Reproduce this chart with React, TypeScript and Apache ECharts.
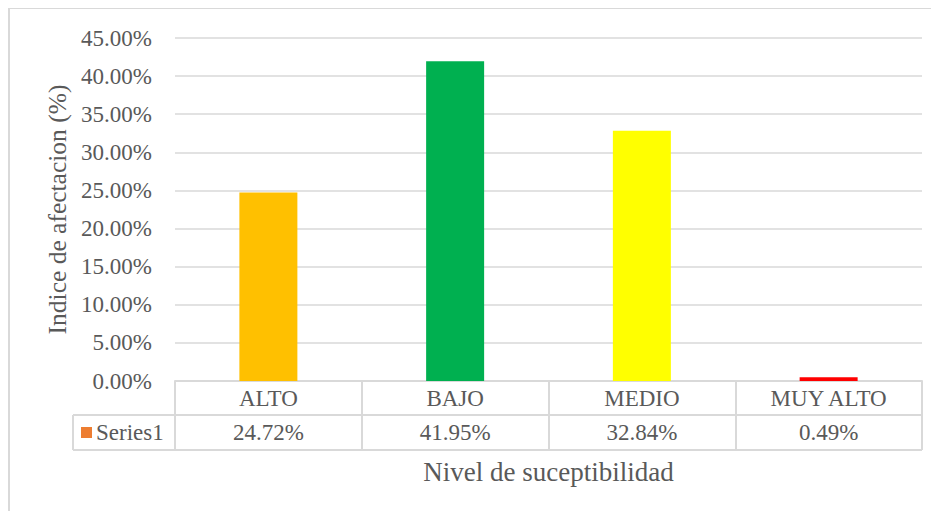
import React, { useEffect, useRef } from "react";
import * as echarts from "echarts";

const categories = ["ALTO", "BAJO", "MEDIO", "MUY ALTO"];
const values = [0.2472, 0.4195, 0.3284, 0.0049];
const barColors = ["#FFC000", "#00B050", "#FFFF00", "#FF0000"];
const seriesName = "Series1";
const yAxisTitle = "Indice de afectacion (%)";
const xAxisTitle = "Nivel de suceptibilidad";

const FONT = "Liberation Serif";
const TXT = "#595959";
const LINE = "#D9D9D9";

export default function App() {
  const ref = useRef<HTMLDivElement>(null);
  useEffect(() => {
    if (!ref.current) return;
    const chart = echarts.init(ref.current, undefined, { renderer: "svg" });
    const W = 931;
    const H = 503;
    const gLeft = 167;
    const gTop = 30;
    const gRight = 17;
    const gBottom = 130;
    const axisY = H - gBottom; // 373
    const row1 = axisY + 34;
    const row2 = axisY + 69;
    const tableLeft = 65;
    const gridRightX = W - gRight;
    chart.setOption({
      animation: false,
      textStyle: { fontFamily: FONT },
      grid: { left: gLeft, top: gTop, right: gRight, bottom: gBottom, containLabel: false },
      legend: {
        data: [seriesName],
        left: tableLeft + 8,
        top: row1 + 6,
        icon: "rect",
        itemWidth: 11,
        itemHeight: 11,
        itemGap: 4,
        textStyle: { fontFamily: FONT, fontSize: 23, color: TXT, padding: [0, 0, 0, -1] },
        padding: 0,
      },
      xAxis: {
        type: "category",
        data: categories,
        axisLine: { show: true, lineStyle: { color: LINE, width: 2 } },
        axisTick: { show: true, length: 69, lineStyle: { color: LINE, width: 2 }, alignWithLabel: false },
        axisLabel: {
          margin: 0,
          interval: 0,
          fontFamily: FONT,
          formatter: (v: string, i: number) =>
            `{c|${v}}\n{v|${(values[i] * 100).toFixed(2)}%}`,
          rich: {
            c: { fontFamily: FONT, fontSize: 23, color: TXT, lineHeight: 34, height: 34 },
            v: { fontFamily: FONT, fontSize: 23, color: TXT, lineHeight: 35, height: 35 },
          },
        },
        name: xAxisTitle,
        nameLocation: "middle",
        nameGap: 77,
        nameTextStyle: { fontFamily: FONT, fontSize: 27, color: TXT },
      },
      yAxis: {
        type: "value",
        min: 0,
        max: 0.45,
        interval: 0.05,
        axisLine: { show: false },
        axisTick: { show: false },
        splitLine: { lineStyle: { color: LINE, width: 1.5 } },
        axisLabel: {
          margin: 23,
          fontFamily: FONT,
          fontSize: 23,
          color: TXT,
          formatter: (v: number) => (v * 100).toFixed(2) + "%",
        },
        name: yAxisTitle,
        nameLocation: "middle",
        nameGap: 104,
        nameRotate: 90,
        nameTextStyle: { fontFamily: FONT, fontSize: 25.5, color: TXT },
      },
      series: [
        {
          name: seriesName,
          type: "bar",
          barWidth: 58,
          itemStyle: { color: "#ED7D31" },
          data: values.map((v, i) => ({ value: v, itemStyle: { color: barColors[i] } })),
        },
      ],
      graphic: [
        { type: "line", shape: { x1: 1, y1: 0, x2: 1, y2: H }, style: { stroke: LINE, lineWidth: 2 } },
        { type: "line", shape: { x1: 0, y1: 0.5, x2: W, y2: 0.5 }, style: { stroke: LINE, lineWidth: 1 } },
        { type: "line", shape: { x1: tableLeft, y1: row1, x2: gridRightX, y2: row1 }, style: { stroke: LINE, lineWidth: 2 } },
        { type: "line", shape: { x1: tableLeft, y1: row2, x2: gridRightX, y2: row2 }, style: { stroke: LINE, lineWidth: 2 } },
        { type: "line", shape: { x1: tableLeft, y1: row1, x2: tableLeft, y2: row2 }, style: { stroke: LINE, lineWidth: 2 } },
      ],
    });
    return () => chart.dispose();
  }, []);
  return <div ref={ref} style={{ width: 931, height: 503 }} />;
}
